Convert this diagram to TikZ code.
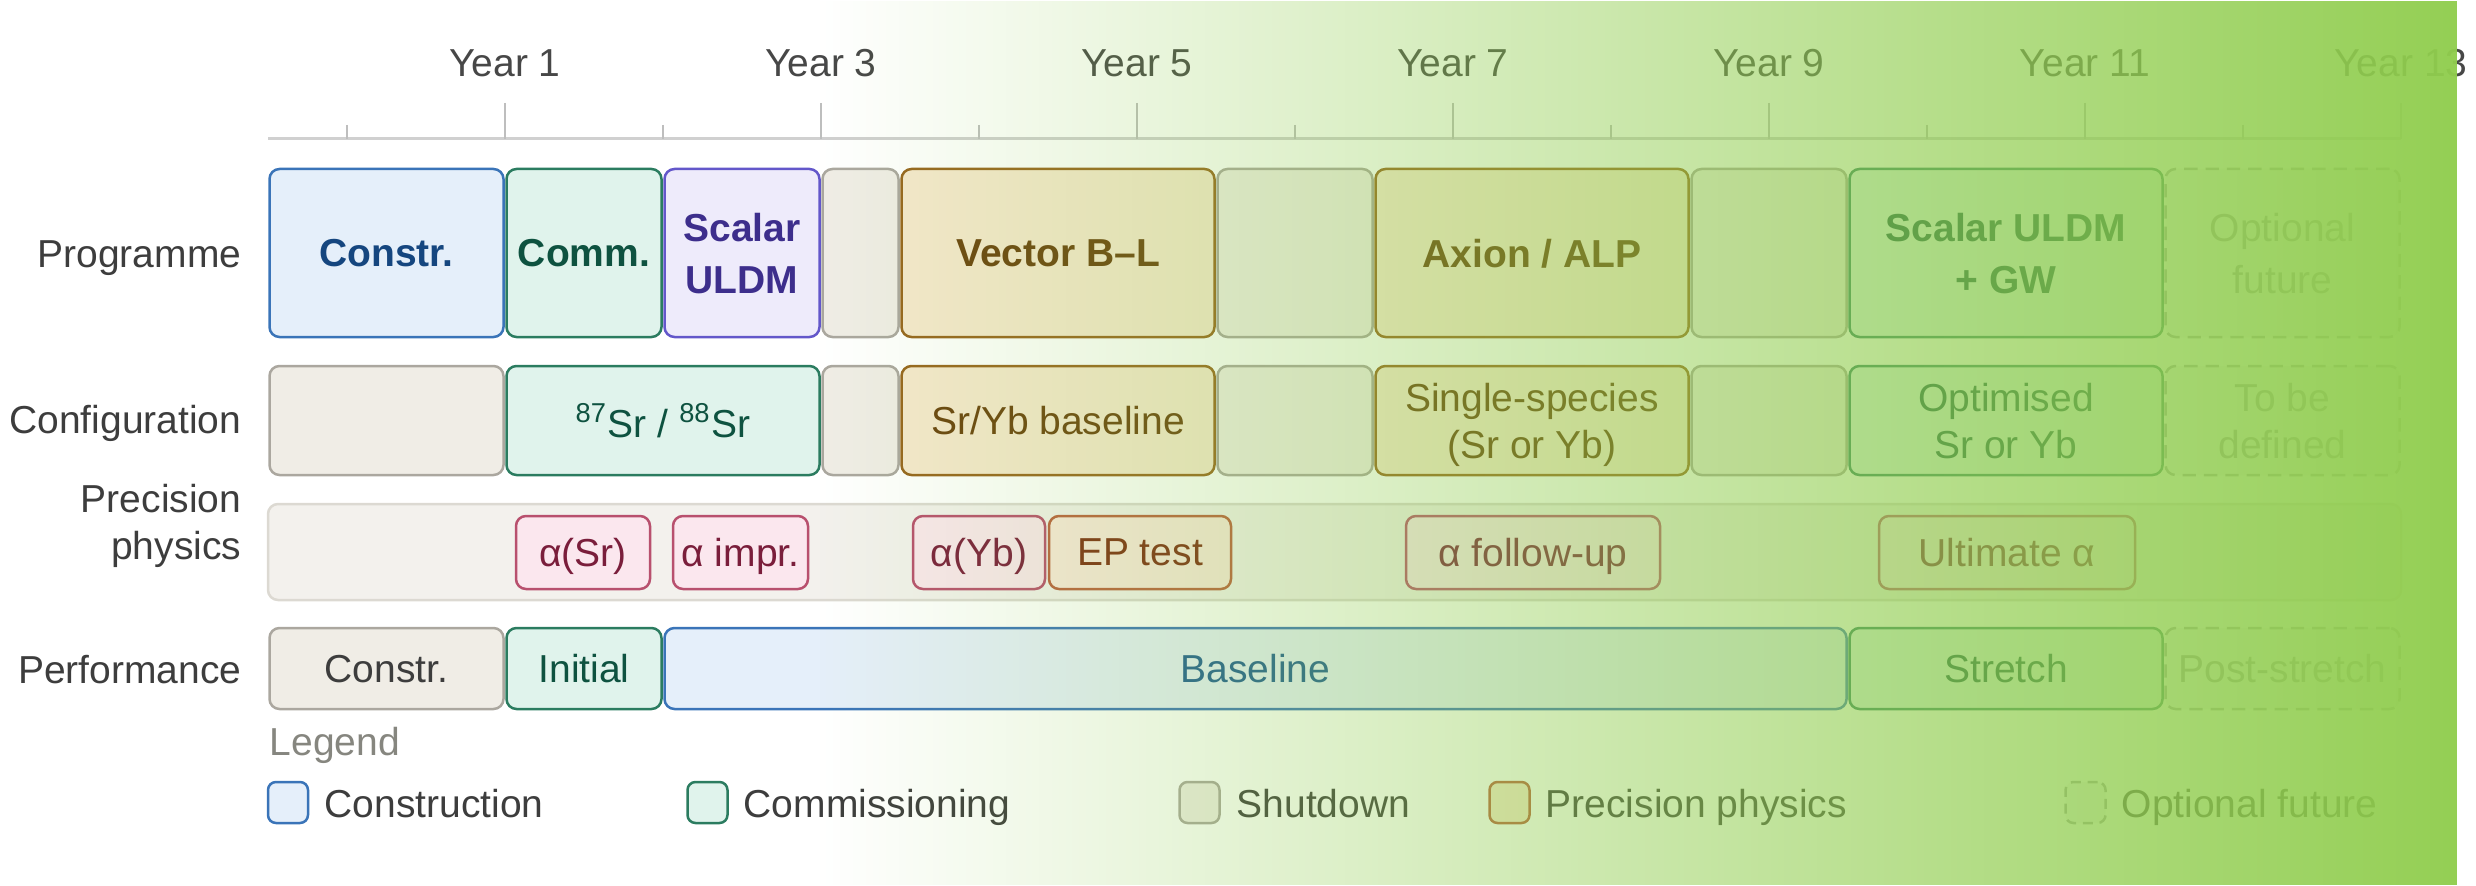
\documentclass[tikz,border=0pt]{standalone}
\usepackage{fontspec}
\setmainfont{Liberation Sans}
\usetikzlibrary{fadings}

% palette
\definecolor{inkDark}{HTML}{3D3D3D}
\definecolor{inkYear}{HTML}{474747}
\definecolor{inkLegend}{HTML}{86867F}
\definecolor{axisGrey}{HTML}{D0D0D0}
\definecolor{tickGrey}{HTML}{BEBEBE}
\definecolor{consFill}{HTML}{E5EFFA}
\definecolor{consLine}{HTML}{3A74B8}
\definecolor{consInk}{HTML}{15467F}
\definecolor{baseInk}{HTML}{1D5A94}
\definecolor{commFill}{HTML}{E0F3EC}
\definecolor{commLine}{HTML}{2B7C60}
\definecolor{commInk}{HTML}{0E5240}
\definecolor{scalFill}{HTML}{EEEBFB}
\definecolor{scalLine}{HTML}{6357CA}
\definecolor{scalInk}{HTML}{3D2E8C}
\definecolor{shutFill}{HTML}{F0EDE6}
\definecolor{shutLine}{HTML}{ABA79F}
\definecolor{ambFill}{HTML}{F6E8CE}
\definecolor{ambLine}{HTML}{97651E}
\definecolor{ambInk}{HTML}{6A430E}
\definecolor{bandFill}{HTML}{F3F1ED}
\definecolor{bandLine}{HTML}{DCD9D2}
\definecolor{alphaFill}{HTML}{FBE7EE}
\definecolor{alphaLine}{HTML}{B8506E}
\definecolor{alphaInk}{HTML}{7A1E3B}
\definecolor{epFill}{HTML}{FAE8DD}
\definecolor{epLine}{HTML}{B9603E}
\definecolor{epInk}{HTML}{7B2C12}
\definecolor{optLine}{HTML}{A3A3A3}
\definecolor{optFill}{HTML}{F8F8F8}
\definecolor{optInk}{HTML}{9C9C9C}
\definecolor{washGreen}{HTML}{90CD4E}

\tikzfading[name=greenramp, left color=transparent!100, right color=transparent!3]

% one block of the timeline: name, style, start, end (half-year steps), top, bottom, text
\newcommand\seg[7]{%
  \node[#2, minimum width={(79*(#4-#3)-3)*0.3pt}, minimum height={(#6-#5)*0.3pt}]
    (#1) at ({268+79*(#3+#4)/2},{(#5+#6)/2}) {#7};}
% one milestone inside the precision band: name, style, left, right, text
\newcommand\chip[5]{%
  \node[#2, minimum width={(#4-#3)*0.3pt}, minimum height={73*0.3pt}]
    (#1) at ({(#3+#4)/2},552.5) {#5};}

\begin{document}
\begin{tikzpicture}[x=0.3pt, y=-0.3pt,
  txt/.style={font=\fontsize{11.7}{14.1}\selectfont},
  blk/.style={txt, draw, line width=0.75pt, rounded corners=3pt, inner sep=0pt,
    outer sep=0pt, text depth=0pt, align=center},
  prog/.style={font=\fontsize{11.7}{15.6}\selectfont\bfseries},
  progreg/.style={font=\fontsize{11.7}{15.6}\selectfont},
  construct/.style={blk, fill=consFill, draw=consLine, text=consInk},
  commission/.style={blk, fill=commFill, draw=commLine, text=commInk},
  scalar/.style={blk, fill=scalFill, draw=scalLine, text=scalInk},
  shutdown/.style={blk, fill=shutFill, draw=shutLine, text=inkDark},
  amber/.style={blk, fill=ambFill, draw=ambLine, text=ambInk},
  band/.style={blk, fill=bandFill, draw=bandLine},
  alphachip/.style={blk, fill=alphaFill, draw=alphaLine, text=alphaInk},
  epchip/.style={blk, fill=epFill, draw=epLine, text=epInk},
  optional/.style={blk, fill=optFill, draw=optLine, dashed, dash pattern=on 4pt off 2.4pt, text=optInk},
  rowlabel/.style={txt, text=inkDark, inner sep=0pt},
  yearlabel/.style={txt, text=inkYear, inner sep=0pt, anchor=base},
  swatch/.style={minimum width=12pt, minimum height=12.3pt, rounded corners=2.4pt,
    line width=0.75pt, inner sep=0pt},
  legtext/.style={txt, text=inkDark, inner sep=0pt, anchor=base west},
]
\useasboundingbox (0,0) rectangle (2476,885);

% time axis
\draw[axisGrey, line width=0.9pt] (268,139) -- (2401,139);
\foreach \u in {1,5,9,13,17,21,25}
  \draw[tickGrey, line width=0.6pt] ({268+79*\u},125) -- ({268+79*\u},139);
\foreach \t in {1,3,5,7,9,11,13} {
  \draw[tickGrey, line width=0.6pt] ({268+79*(2*\t+1)},103) -- ({268+79*(2*\t+1)},139);
  \node[yearlabel] (year\t) at ({268+79*(2*\t+1)},77) {Year \t};
}

% row labels
\node[rowlabel, anchor=base east] (lblProg) at (242,267) {Programme};
\node[rowlabel, anchor=base east] (lblConf) at (242,433) {Configuration};
\node[rowlabel, anchor=east, align=right, text depth=0pt] (lblPrec) at (242,521.5) {Precision\\physics};
\node[rowlabel, anchor=base east] (lblPerf) at (242,683) {Performance};

% programme row
\seg{pConstr}{construct, prog}{0}{3}{169}{337}{Constr.}
\seg{pComm}{commission, prog}{3}{5}{169}{337}{Comm.}
\seg{pScalar}{scalar, prog}{5}{7}{169}{337}{Scalar\\ULDM}
\seg{pShutA}{shutdown}{7}{8}{169}{337}{}
\seg{pVector}{amber, prog}{8}{12}{169}{337}{Vector B–L}
\seg{pShutB}{shutdown}{12}{14}{169}{337}{}
\seg{pAxion}{amber, prog}{14}{18}{169}{337}{Axion / ALP}
\seg{pShutC}{shutdown}{18}{20}{169}{337}{}
\seg{pScalarGW}{commission, prog}{20}{24}{169}{337}{Scalar ULDM\\+ GW}
\seg{pFuture}{optional, progreg}{24}{27}{169}{337}{Optional\\future}

% configuration row
\seg{cConstr}{shutdown}{0}{3}{366}{475}{}
\seg{cSr}{commission}{3}{7}{366}{475}{\textsuperscript{87}Sr / \textsuperscript{88}Sr}
\seg{cShutA}{shutdown}{7}{8}{366}{475}{}
\seg{cBase}{amber}{8}{12}{366}{475}{Sr/Yb baseline}
\seg{cShutB}{shutdown}{12}{14}{366}{475}{}
\seg{cSingle}{amber}{14}{18}{366}{475}{Single-species\\(Sr or Yb)}
\seg{cShutC}{shutdown}{18}{20}{366}{475}{}
\seg{cOpt}{commission}{20}{24}{366}{475}{Optimised\\Sr or Yb}
\seg{cTbd}{optional}{24}{27}{366}{475}{To be\\defined}

% precision physics band and its milestones
\node[band, minimum width={2133*0.3pt}, minimum height={96*0.3pt}] (precBand) at (1334.5,552) {};
\chip{mAlphaSr}{alphachip}{516}{650}{α(Sr)}
\chip{mAlphaImp}{alphachip}{673}{808}{α impr.}
\chip{mAlphaYb}{alphachip}{913}{1045}{α(Yb)}
\chip{mEP}{epchip}{1049}{1231}{EP test}
\chip{mFollow}{alphachip}{1406}{1660}{α follow-up}
\chip{mUltimate}{alphachip}{1879}{2135}{Ultimate α}

% performance row
\seg{fConstr}{shutdown}{0}{3}{628}{709}{Constr.}
\seg{fInit}{commission}{3}{5}{628}{709}{Initial}
\seg{fBase}{construct, text=baseInk}{5}{20}{628}{709}{Baseline}
\seg{fStretch}{commission}{20}{24}{628}{709}{Stretch}
\seg{fPost}{optional}{24}{27}{628}{709}{Post-stretch}

% legend
\node[txt, text=inkLegend, inner sep=0pt, anchor=base west] (legTitle) at (269,755) {Legend};
\node[swatch, draw=consLine, fill=consFill] (swCons) at (288,802.5) {};
\node[legtext] (ltCons) at (324,817) {Construction};
\node[swatch, draw=commLine, fill=commFill] (swComm) at (707.5,802.5) {};
\node[legtext] (ltComm) at (743,817) {Commissioning};
\node[swatch, draw=shutLine, fill=shutFill] (swShut) at (1199.5,802.5) {};
\node[legtext] (ltShut) at (1236,817) {Shutdown};
\node[swatch, draw=epLine, fill=ambFill] (swPrec) at (1509.5,802.5) {};
\node[legtext] (ltPrec) at (1545,817) {Precision physics};
\node[swatch, draw=optLine, fill=optFill, dashed, dash pattern=on 3pt off 2pt] (swOpt) at (2085.5,802.5) {};
\node[legtext] (ltOpt) at (2121,817) {Optional future};

% green wash rising towards the later years
\fill[washGreen, path fading=greenramp, fit fading=true] (819,1) rectangle (2458,885);
\end{tikzpicture}
\end{document}
